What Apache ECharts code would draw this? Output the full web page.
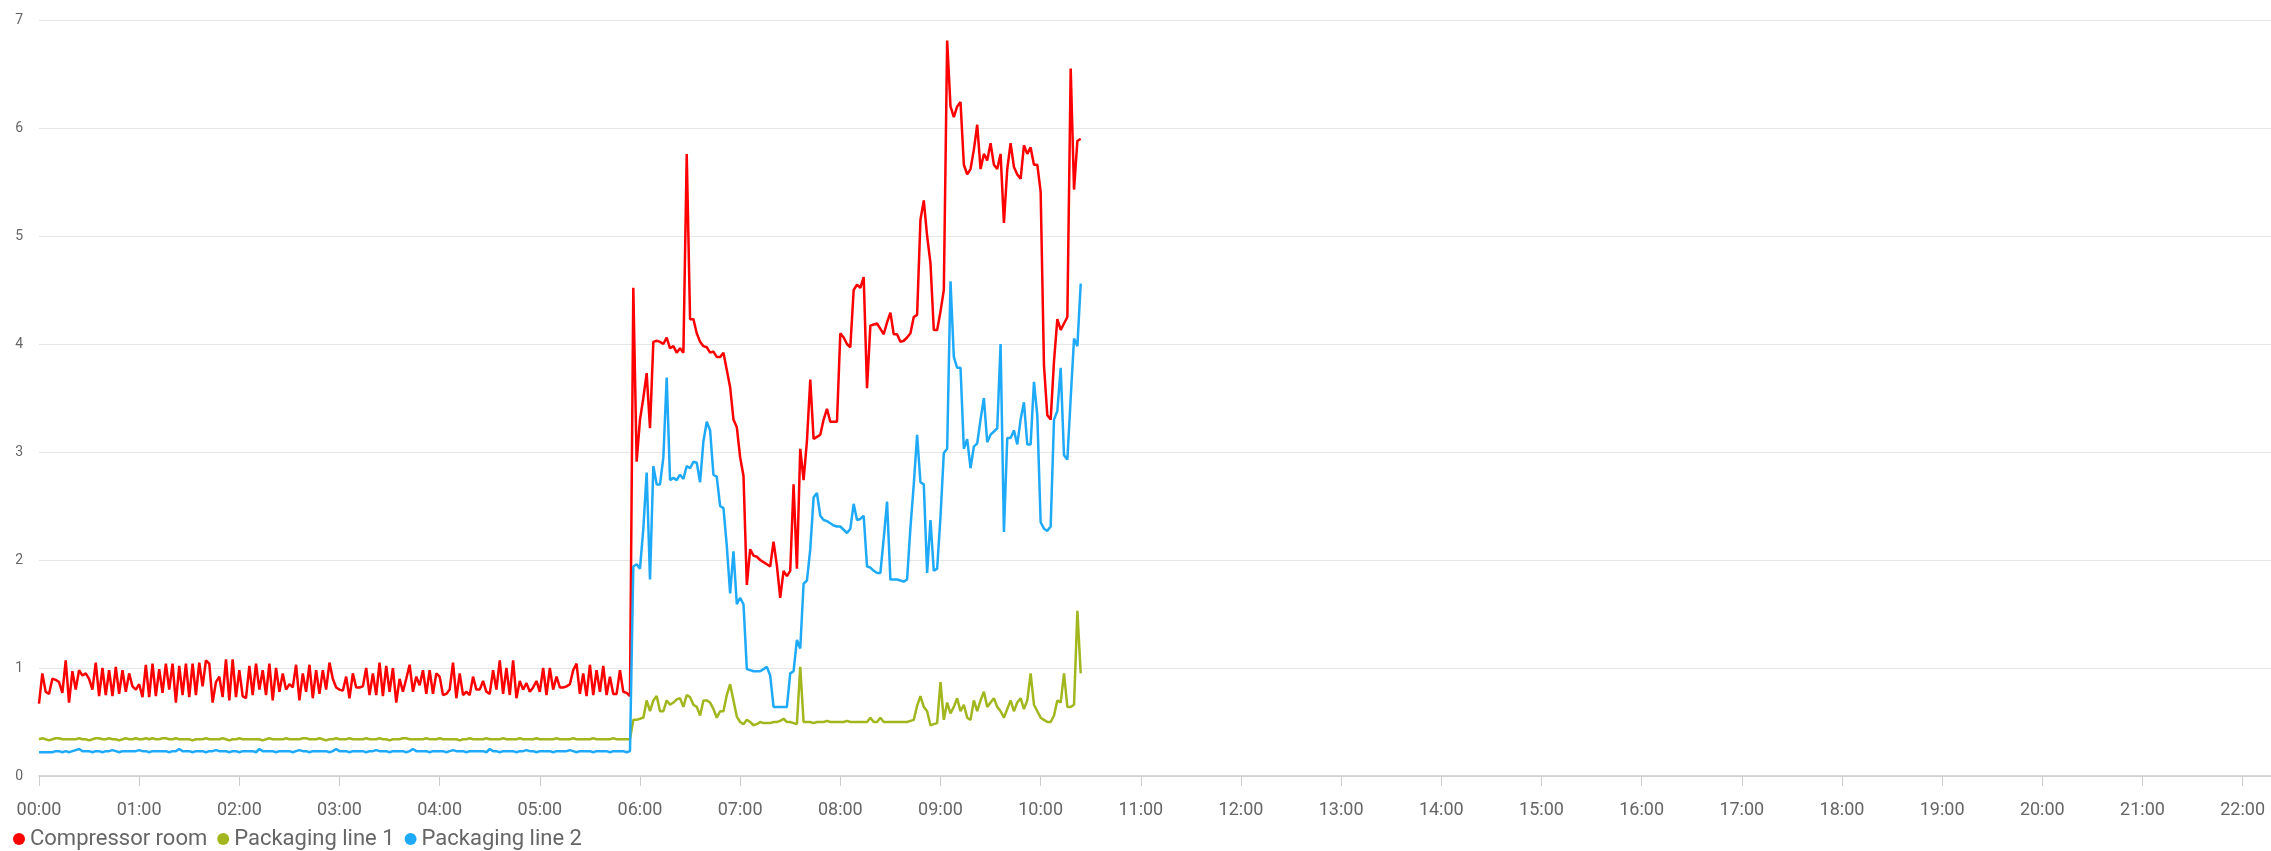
<!DOCTYPE html>
<html>
<head>
<meta charset="utf-8">
<title>Compressor room / Packaging lines</title>
<script src="https://cdn.jsdelivr.net/npm/echarts@6/dist/echarts.min.js"></script>
<style>
    html, body { margin: 0; padding: 0; background: #fff; }
    #chart { width: 2271px; height: 851px; }
</style>
</head>
<body>
<div id="chart"></div>
<script>
// samples every 2 minutes, starting 00:00
var stepMin = 2;

var seriesNames = ['Compressor room', 'Packaging line 1', 'Packaging line 2'];
var seriesColors = ['#ff0000', '#a2b61e', '#1eaaf8'];

// 00:00 - 05:54 (idle, noisy)
var redNight = [
    0.67, 0.95, 0.78, 0.76, 0.9, 0.89, 0.87, 0.77, 1.07, 0.68,
    0.97, 0.8, 0.98, 0.93, 0.95, 0.9, 0.8, 1.05, 0.74, 1.0,
    0.75, 0.98, 0.74, 1.01, 0.76, 0.98, 0.78, 0.95, 0.83, 0.8,
    0.85, 0.73, 1.03, 0.73, 1.04, 0.74, 0.99, 0.77, 1.04, 0.8,
    1.04, 0.68, 1.02, 0.75, 1.04, 0.73, 1.04, 0.75, 1.05, 0.83,
    1.07, 1.04, 0.68, 0.87, 0.92, 0.73, 1.08, 0.7, 1.08, 0.73,
    0.98,
    0.74, 0.72, 1.02, 0.75, 1.04, 0.8, 0.98, 0.75, 1.04, 0.7,
    1.0, 0.78, 0.95, 0.8, 0.85, 0.82, 1.03, 0.7, 0.95, 0.78,
    1.03, 0.72, 0.98, 0.76, 0.98, 0.8, 1.05, 0.9, 0.82, 0.8,
    0.79, 0.92, 0.72, 0.95, 0.82, 0.82, 0.83, 1.0, 0.75, 0.95,
    0.75, 1.05, 0.74, 1.02, 0.78, 1.0, 0.68, 0.9, 0.78, 0.9,
    1.03, 0.78, 0.92, 0.84, 0.98, 0.76, 0.98, 0.76, 0.95,
    0.92, 0.75, 0.76, 0.8, 1.05, 0.72, 0.95, 0.75, 0.78, 0.75,
    0.92, 0.8, 0.8, 0.88, 0.78, 0.76, 0.98, 0.8, 1.07, 0.76,
    1.0, 0.75, 1.07, 0.72, 0.88, 0.8, 0.86, 0.78, 0.82, 0.88,
    0.78, 1.0, 0.75, 1.0, 0.8, 0.92, 0.82, 0.82, 0.83, 0.85,
    0.98, 1.04, 0.76, 0.95, 0.74, 1.03, 0.75, 0.98, 0.78, 1.02,
    0.75, 0.92, 0.76, 0.76, 0.98, 0.78, 0.77, 0.74
];
var greenNight = [
    .34, .35, .34, .33, .34, .35, .35, .34, .34, .34, .34, .34, .35, .34, .34, .33, .34, .35, .35, .34,
    .34, .35, .34, .34, .33, .34, .35, .34, .34, .35, .34, .34, .35, .34, .35, .34, .34, .35, .35, .34,
    .34, .35, .34, .34, .34, .34, .33, .34, .34, .34, .35, .34, .34, .34, .34, .35, .34, .33, .34, .34,
    .35, .34, .34, .34, .34, .34, .34, .33, .34, .35, .34, .34, .34, .34, .35, .34, .34, .34, .34, .35,
    .35, .34, .34, .34, .35, .34, .33, .34, .34, .35, .34, .34, .34, .35, .34, .34, .34, .34, .35, .34,
    .34, .34, .35, .34, .34, .33, .34, .34, .34, .35, .35, .34, .34, .34, .34, .34, .35, .34, .34, .34,
    .35, .34, .34, .34, .34, .34, .33, .34, .34, .35, .34, .34, .34, .34, .35, .34, .34, .34, .34, .35,
    .34, .34, .34, .34, .35, .34, .34, .34, .34, .35, .34, .34, .34, .34, .34, .35, .34, .34, .34, .34,
    .35, .34, .34, .34, .34, .34, .35, .34, .34, .34, .34, .34, .35, .34, .34, .34, .34, .34
];
var blueNight = [
    .22, .22, .22, .22, .22, .23, .23, .22, .23, .22, .23, .24, .25, .23, .23, .23, .22, .23, .23, .22,
    .23, .23, .24, .23, .22, .23, .23, .23, .23, .23, .24, .23, .23, .22, .23, .23, .23, .23, .23, .22,
    .23, .23, .25, .23, .23, .23, .22, .23, .23, .23, .22, .23, .23, .24, .23, .23, .23, .22, .23, .23,
    .22, .23, .23, .23, .23, .22, .25, .23, .23, .23, .23, .22, .23, .23, .23, .23, .22, .23, .24, .23,
    .23, .22, .23, .23, .23, .23, .23, .22, .23, .25, .23, .23, .23, .22, .23, .23, .23, .23, .22, .23,
    .23, .24, .23, .23, .23, .22, .23, .23, .23, .23, .22, .23, .25, .23, .23, .23, .23, .22, .23, .23,
    .23, .23, .22, .23, .24, .23, .23, .23, .22, .23, .23, .23, .23, .23, .22, .25, .23, .23, .22, .23,
    .23, .23, .23, .22, .23, .23, .24, .23, .23, .22, .23, .23, .23, .23, .22, .23, .23, .23, .23, .24,
    .23, .22, .23, .23, .23, .23, .22, .23, .23, .23, .23, .22, .23, .23, .23, .23, .22, .23
];

// 05:56 - 10:24 (production)
var redDay = [
    4.52, 2.91,
    3.3, 3.5, 3.73, 3.22, 4.02, 4.03, 4.02, 4.0, 4.06, 3.96,
    3.98, 3.92, 3.96, 3.92, 5.76, 4.23, 4.23, 4.1, 4.02, 3.98,
    3.97, 3.92, 3.93, 3.88, 3.88, 3.92, 3.76, 3.6, 3.3, 3.23,
    2.95, 2.78, 1.77, 2.1, 2.04, 2.03, 2.0, 1.98, 1.96, 1.94,
    2.17, 1.95, 1.65, 1.9, 1.85, 1.9, 2.7, 1.92, 3.03, 2.74,
    3.1, 3.67, 3.12, 3.14, 3.16, 3.3, 3.4, 3.28, 3.28, 3.28,
    4.1, 4.06, 4.0, 3.97, 4.5, 4.55, 4.52, 4.62, 3.59, 4.17,
    4.18, 4.19, 4.14, 4.09, 4.2, 4.29, 4.09, 4.09, 4.02, 4.03,
    4.06, 4.1, 4.25, 4.27, 5.15, 5.33, 5.0, 4.75, 4.13, 4.13,
    4.3, 4.5, 6.81, 6.2, 6.1, 6.2, 6.24, 5.66, 5.57, 5.62,
    5.8, 6.03, 5.62, 5.76, 5.7, 5.86, 5.66, 5.62, 5.76, 5.12,
    5.62, 5.86, 5.64, 5.57, 5.53, 5.84, 5.76, 5.82, 5.66, 5.66,
    5.41, 3.8, 3.34, 3.3, 3.84, 4.23, 4.13, 4.19, 4.25, 6.55,
    5.43, 5.88, 5.9
];
var greenDay = [
    0.52, 0.52,
    0.53, 0.54, 0.7, 0.6, 0.7, 0.74, 0.6, 0.6, 0.7, 0.66,
    0.68, 0.71, 0.72, 0.64, 0.75, 0.73, 0.66, 0.64, 0.56, 0.7,
    0.7, 0.68, 0.62, 0.54, 0.6, 0.6, 0.75, 0.85, 0.7, 0.55,
    0.5, 0.48, 0.52, 0.5, 0.47, 0.48, 0.5, 0.49, 0.49, 0.49,
    0.5, 0.5, 0.51, 0.53, 0.5, 0.5, 0.49, 0.48, 1.01, 0.5,
    0.5, 0.5, 0.49, 0.5, 0.5, 0.5, 0.51, 0.5, 0.5, 0.5,
    0.5, 0.5, 0.51, 0.5, 0.5, 0.5, 0.5, 0.5, 0.5, 0.54,
    0.5, 0.5, 0.54, 0.5, 0.5, 0.5, 0.5, 0.5, 0.5, 0.5,
    0.5, 0.51, 0.52, 0.65, 0.74, 0.64, 0.6, 0.47, 0.48, 0.49,
    0.87, 0.52, 0.68, 0.58, 0.64, 0.72, 0.6, 0.66, 0.54, 0.52,
    0.7, 0.6, 0.7, 0.78, 0.64, 0.68, 0.72, 0.64, 0.6, 0.54,
    0.62, 0.7, 0.6, 0.68, 0.72, 0.62, 0.7, 0.95, 0.66, 0.6,
    0.54, 0.52, 0.5, 0.5, 0.56, 0.7, 0.68, 0.95, 0.64, 0.64,
    0.66, 1.53, 0.95
];
var blueDay = [
    1.94, 1.96,
    1.92, 2.29, 2.81, 1.82, 2.87, 2.7, 2.7, 2.95, 3.69, 2.74,
    2.76, 2.74, 2.79, 2.75, 2.87, 2.85, 2.91, 2.9, 2.72, 3.1,
    3.28, 3.2, 2.79, 2.77, 2.5, 2.48, 2.13, 1.69, 2.08, 1.59,
    1.65, 1.59, 0.99, 0.98, 0.97, 0.97, 0.97, 0.99, 1.01, 0.93,
    0.64, 0.64, 0.64, 0.64, 0.64, 0.95, 0.97, 1.26, 1.18, 1.78,
    1.81, 2.1, 2.58, 2.62, 2.41, 2.37, 2.36, 2.34, 2.32, 2.31,
    2.31, 2.28, 2.25, 2.29, 2.52, 2.37, 2.38, 2.41, 1.94, 1.93,
    1.9, 1.88, 1.88, 2.2, 2.54, 1.82, 1.82, 1.82, 1.81, 1.8,
    1.82, 2.3, 2.7, 3.16, 2.72, 2.7, 1.88, 2.37, 1.9, 1.92,
    2.4, 2.99, 3.03, 4.58, 3.88, 3.78, 3.78, 3.03, 3.12, 2.85,
    3.05, 3.08, 3.3, 3.5, 3.09, 3.16, 3.19, 3.22, 4.0, 2.26,
    3.13, 3.13, 3.2, 3.07, 3.3, 3.46, 3.07, 3.07, 3.65, 3.34,
    2.35, 2.29, 2.27, 2.31, 3.3, 3.38, 3.78, 2.97, 2.93, 3.5,
    4.05, 3.98, 4.56
];

var yTicks = [0, 1, 2, 3, 4, 5, 6, 7];
// visible part of the day (minutes); the axis runs a little past 22:00
var xMax = 1337;

function toPoints(vals) {
    var pts = [];
    for (var i = 0; i < vals.length; i++) {
        pts.push([i * stepMin, vals[i]]);
    }
    return pts;
}

function hourLabel(v) {
    var h = Math.floor(v / 60);
    return (h < 10 ? '0' : '') + h + ':00';
}

var allValues = [
    redNight.concat(redDay),
    greenNight.concat(greenDay),
    blueNight.concat(blueDay)
];

var myChart = echarts.init(document.getElementById('chart'));
var options = {
    animation: false,
    backgroundColor: '#fff',
    textStyle: { fontFamily: 'Roboto' },
    grid: { left: 39, right: 0, top: 20, bottom: 75 },
    legend: {
        data: seriesNames,
        left: 8,
        top: 823,
        icon: 'circle',
        itemWidth: 12,
        itemHeight: 12,
        itemGap: 10,
        textStyle: { fontSize: 22, color: '#666', fontFamily: 'Roboto' }
    },
    tooltip: {},
    xAxis: {
        type: 'value',
        min: 0,
        max: xMax,
        interval: 60,
        axisLine: { lineStyle: { color: '#cccccc', width: 1.5 } },
        axisTick: { show: true, length: 10, lineStyle: { color: '#cccccc' } },
        axisLabel: { formatter: hourLabel, color: '#666', fontSize: 18, margin: 25, showMaxLabel: false },
        splitLine: { show: false }
    },
    yAxis: {
        type: 'value',
        min: yTicks[0],
        max: yTicks[yTicks.length - 1],
        interval: 1,
        axisLine: { show: false },
        axisTick: { show: false },
        axisLabel: { color: '#666', fontSize: 14, margin: 16 },
        splitLine: { lineStyle: { color: '#e6e6e6', width: 1 } }
    },
    series: []
};

for (var s = 0; s < seriesNames.length; s++) {
    options.series.push({
        name: seriesNames[s],
        type: 'line',
        showSymbol: false,
        symbol: 'circle',
        data: toPoints(allValues[s]),
        lineStyle: { width: 2.5, color: seriesColors[s] },
        itemStyle: { color: seriesColors[s] }
    });
}
myChart.setOption(options, true);
</script>
</body>
</html>
